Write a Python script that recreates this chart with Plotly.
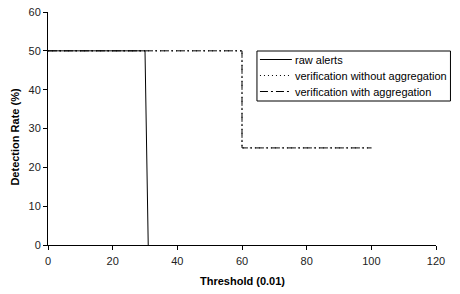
import plotly.graph_objects as go

raw_x = [0, 30, 31]
raw_y = [50, 50, 0]
nonagg_x = [0, 60, 60, 100]
nonagg_y = [50, 50, 25, 25]
agg_x = [0, 60, 60, 100]
agg_y = [50, 50, 25, 25]

names = ["raw alerts", "verification without aggregation", "verification with aggregation"]
dashes = ["solid", "1px,3px", "8px,3px,2px,3px"]

# plot area in pixels: x 47.5..436.5, y 12..245
L, R, T, B = 47.5, 436.5, 12, 245
def px(xp):
    return (xp - L) / (R - L)
def py(yp):
    return (B - yp) / (B - T)

fig = go.Figure()
for xs, ys, n, d in [(nonagg_x, nonagg_y, names[1], dashes[1]),
                     (agg_x, agg_y, names[2], dashes[2]),
                     (raw_x, raw_y, names[0], dashes[0])]:
    fig.add_trace(go.Scatter(x=xs, y=ys, mode="lines", name=n, showlegend=False,
                             line=dict(color="black", width=1, dash=d)))

axis_common = dict(showgrid=False, zeroline=False, showline=True, linecolor="black", linewidth=1,
                   ticks="outside", ticklen=4, tickcolor="black", automargin=False,
                   tickfont=dict(family="Liberation Sans, Arial", size=11, color="#222"))

shapes = [dict(type="rect", xref="paper", yref="paper", x0=px(257), x1=px(451), y0=py(101), y1=py(51),
               line=dict(color="black", width=1), fillcolor="white", layer="above")]
annotations = []
rows = [59.5, 75.5, 91.5]
for n, d, r in zip(names, dashes, rows):
    shapes.append(dict(type="line", xref="paper", yref="paper", x0=px(260), x1=px(292), y0=py(r), y1=py(r),
                       line=dict(color="black", width=1, dash=d), layer="above"))
    annotations.append(dict(text=n, xref="paper", yref="paper", x=px(293.5), y=py(r), xanchor="left",
                            yanchor="middle", showarrow=False, font=dict(size=11, color="black")))
annotations.append(dict(text="<b>Threshold (0.01)</b>", xref="paper", yref="paper", x=0.5, y=py(281),
                        xanchor="center", yanchor="middle", showarrow=False, font=dict(size=11)))
annotations.append(dict(text="<b>Detection Rate (%)</b>", xref="paper", yref="paper", x=px(14), y=py(137),
                        xanchor="center", yanchor="middle", textangle=-90, showarrow=False, font=dict(size=11)))

fig.update_layout(
    width=460, height=294,
    margin=dict(l=47.5, r=23.5, t=12, b=49),
    paper_bgcolor="white", plot_bgcolor="white",
    font=dict(family="Liberation Sans, Arial", size=11, color="black"),
    xaxis=dict(range=[0, 120], dtick=20, ticklabelstandoff=2, **axis_common),
    yaxis=dict(range=[0, 60], dtick=10, **axis_common),
    shapes=shapes, annotations=annotations,
    showlegend=False,
)
fig.write_html("out.html")
